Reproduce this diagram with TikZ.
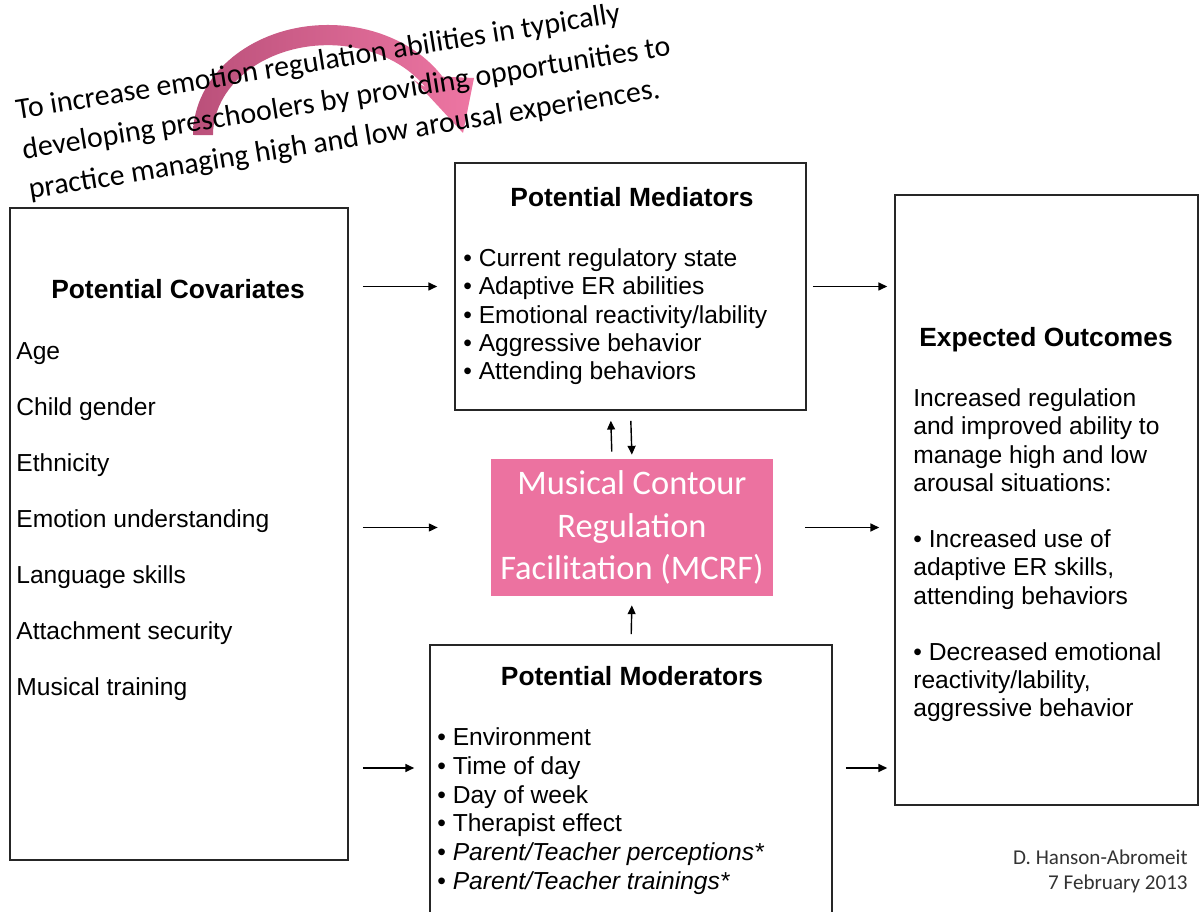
\documentclass[tikz,border=0pt]{standalone}
\usepackage{fontspec}
\setmainfont{Liberation Sans}
\newfontfamily\calibri{Carlito}
\usepackage{tikz}
\usetikzlibrary{arrows.meta,positioning}
\definecolor{mcrfpink}{RGB}{236,114,160}
\definecolor{arcdark}{RGB}{186,80,122}
\definecolor{arclight}{RGB}{238,118,163}

\begin{document}
\begin{tikzpicture}[every node/.style={inner sep=0pt},
  panel/.style={draw=black!85, line width=0.9pt},
  heading/.style={font=\fontsize{15}{18}\selectfont\bfseries, anchor=base},
  itemlist/.style={font=\fontsize{14}{16.2}\selectfont, align=left, anchor=base west},
  link/.style={-{Triangle[length=5pt,width=4.5pt]}, line width=0.8pt}]
  \useasboundingbox (0,0) rectangle (24,18.22);

  % Curved pink arrow behind the goal text
  \shade[left color=arcdark, right color=arclight]
    (3.86,15.52) arc[start angle=180, end angle=32, x radius=2.7cm, y radius=2.2cm]
    -- (9.48,16.66) -- (9.26,15.56) -- (8.28,16.62) -- (8.51,16.47)
    arc[start angle=32, end angle=180, x radius=2.3cm, y radius=1.8cm] -- cycle;

  % Goal (anchored at the baseline of its last line)
  \node[font=\calibri\fontsize{17}{23}\selectfont, align=left,
        anchor=base west, rotate=9.1] (goal) at (0.60,14.24) {
    To increase emotion regulation abilities in typically\\
    developing preschoolers by providing opportunities to\\
    practice managing high and low arousal experiences.
  };

  % Covariates
  \node[panel, minimum width=6.76cm, minimum height=13.04cm] (cov) at (3.58,7.54) {};
  \node[heading] (covtitle) at (3.56,12.24) {Potential Covariates};
  \node[itemlist, font=\fontsize{14}{31.9}\selectfont] (covlist) at (0.32,4.30) {
    Age\\ Child gender\\ Ethnicity\\ Emotion understanding\\
    Language skills\\ Attachment security\\ Musical training
  };

  % Mediators
  \node[panel, minimum width=7.02cm, minimum height=4.94cm] (med) at (12.61,12.49) {};
  \node[heading] (medtitle) at (12.64,14.08) {Potential Mediators};
  \node[itemlist] (medlist) at (9.26,10.62) {
    \textbullet\ Current regulatory state\\
    \textbullet\ Adaptive ER abilities\\
    \textbullet\ Emotional reactivity/lability\\
    \textbullet\ Aggressive behavior\\
    \textbullet\ Attending behaviors
  };

  % Intervention
  \node[fill=mcrfpink, minimum width=5.64cm, minimum height=2.74cm,
        text=white, align=center, font=\calibri\fontsize{19.6}{24.2}\selectfont]
    (mcrf) at (12.64,7.67) {
    Musical Contour\\ Regulation\\ Facilitation (MCRF)
  };

  % Moderators
  \node[panel, minimum width=8.04cm, minimum height=5.70cm] (mod) at (12.62,2.47) {};
  \node[heading] (modtitle) at (12.64,4.50) {Potential Moderators};
  \node[itemlist, font=\fontsize{14}{16.3}\selectfont] (modlist) at (8.74,0.44) {
    \textbullet\ Environment\\
    \textbullet\ Time of day\\
    \textbullet\ Day of week\\
    \textbullet\ Therapist effect\\
    \textbullet\ \textit{Parent/Teacher perceptions*}\\
    \textbullet\ \textit{Parent/Teacher trainings*}
  };

  % Outcomes
  \node[panel, minimum width=6.06cm, minimum height=12.20cm] (out) at (20.93,8.22) {};
  \node[heading] (outtitle) at (20.92,11.28) {Expected Outcomes};
  \node[itemlist, font=\fontsize{14}{16.05}\selectfont] (outlist) at (18.26,3.88) {
    Increased regulation\\ and improved ability to\\
    manage high and low\\ arousal situations:\\[16.05pt]
    \textbullet\ Increased use of\\ adaptive ER skills,\\
    attending behaviors\\[16.05pt]
    \textbullet\ Decreased emotional\\ reactivity/lability,\\
    aggressive behavior
  };

  % Signature
  \node[font=\calibri\fontsize{12}{14.2}\selectfont, text=black!80, align=right,
        anchor=base east] (sign) at (23.76,0.43) {
    D. Hanson-Abromeit\\ 7 February 2013
  };

  % Connectors
  \coordinate (lowrow) at (0,2.86);
  \draw[link, shorten <=0.28cm, shorten >=0.34cm] (cov.east |- med) -- (med.west);
  \draw[link, shorten <=0.28cm, shorten >=1.06cm] (cov.east |- mcrf) -- (mcrf.west);
  \draw[link, shorten <=0.28cm, shorten >=0.30cm] (cov.east |- lowrow) -- (mod.west |- lowrow);
  \draw[link, shorten <=0.12cm, shorten >=0.14cm] (med.east) -- (out.west |- med.east);
  \draw[link, shorten <=0.64cm, shorten >=0.30cm] (mcrf.east) -- (out.west |- mcrf.east);
  \draw[link, shorten <=0.26cm, shorten >=0.14cm] (mod.east |- lowrow) -- (out.west |- lowrow);
  \draw[link, shorten <=0.14cm, shorten >=0.20cm]
    ([xshift=-0.4cm]mcrf.north) -- ([xshift=-0.4cm]med.south);
  \draw[link, shorten <=0.20cm, shorten >=0.08cm] (med.south) -- (mcrf.north);
  \draw[link, shorten <=0.20cm, shorten >=0.18cm] (mod.north) -- (mcrf.south);
\end{tikzpicture}
\end{document}
